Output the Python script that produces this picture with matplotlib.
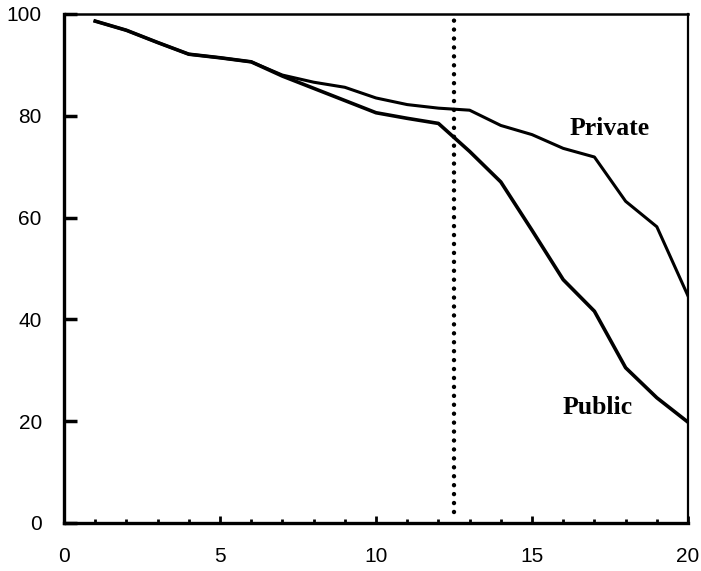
import numpy as np
import matplotlib
matplotlib.use("Agg")
import matplotlib.pyplot as plt
from matplotlib.ticker import MultipleLocator

# Data
years = [1, 2, 3, 4, 5, 6, 7, 8, 9, 10, 11, 12, 13, 14, 15, 16, 17, 18, 19, 20]
private = [98.6, 96.8, 94.4, 92.1, 91.4, 90.6, 88.0, 86.6, 85.6, 83.5,
           82.2, 81.5, 81.1, 78.1, 76.3, 73.6, 71.9, 63.2, 58.2, 44.6]
public = [98.6, 96.8, 94.4, 92.1, 91.4, 90.6, 87.8, 85.4, 83.0, 80.6,
          79.5, 78.5, 73.0, 67.0, 57.5, 47.8, 41.6, 30.5, 24.6, 19.8]
cutoff = 12.5
x_ticks = [0, 5, 10, 15, 20]
y_ticks = [0, 20, 40, 60, 80, 100]


def main():
    fig = plt.figure(figsize=(7.01, 5.71), dpi=100)
    ax = fig.add_axes([0.0913, 0.0841, 0.8902, 0.8914])

    ax.plot(years, private, color="black", lw=2.2, solid_joinstyle="round")
    ax.plot(years, public, color="black", lw=2.6, solid_joinstyle="round")

    # dotted cut-off line
    ax.plot([cutoff, cutoff], [2.2, 100], color="black", lw=3.2,
            linestyle=(0, (0.01, 2.0)), dash_capstyle="round")

    ax.text(17.5, 77.5, "Private", family="Liberation Serif", weight="bold",
            fontsize=18.5, ha="center", va="center")
    ax.text(17.1, 22.6, "Public", family="Liberation Serif", weight="bold",
            fontsize=18.5, ha="center", va="center")

    ax.set_xlim(0, 20)
    ax.set_ylim(0, 100)
    ax.set_xticks(x_ticks)
    ax.set_yticks(y_ticks)
    ax.xaxis.set_minor_locator(MultipleLocator(1))

    ax.tick_params(axis="y", direction="in", length=9, width=2.5, pad=16,
                   labelsize=15)
    ax.tick_params(axis="x", which="major", direction="in", length=5,
                   width=2, pad=17, labelsize=15)
    ax.tick_params(axis="x", which="minor", direction="in", length=3, width=2)
    for lbl in ax.get_xticklabels() + ax.get_yticklabels():
        lbl.set_family("Liberation Sans")

    ax.spines["left"].set_linewidth(2.4)
    ax.spines["bottom"].set_linewidth(2.4)
    ax.spines["top"].set_linewidth(1.8)
    ax.spines["right"].set_linewidth(1.6)

    fig.savefig("out.png", dpi=100)


if __name__ == "__main__":
    main()
